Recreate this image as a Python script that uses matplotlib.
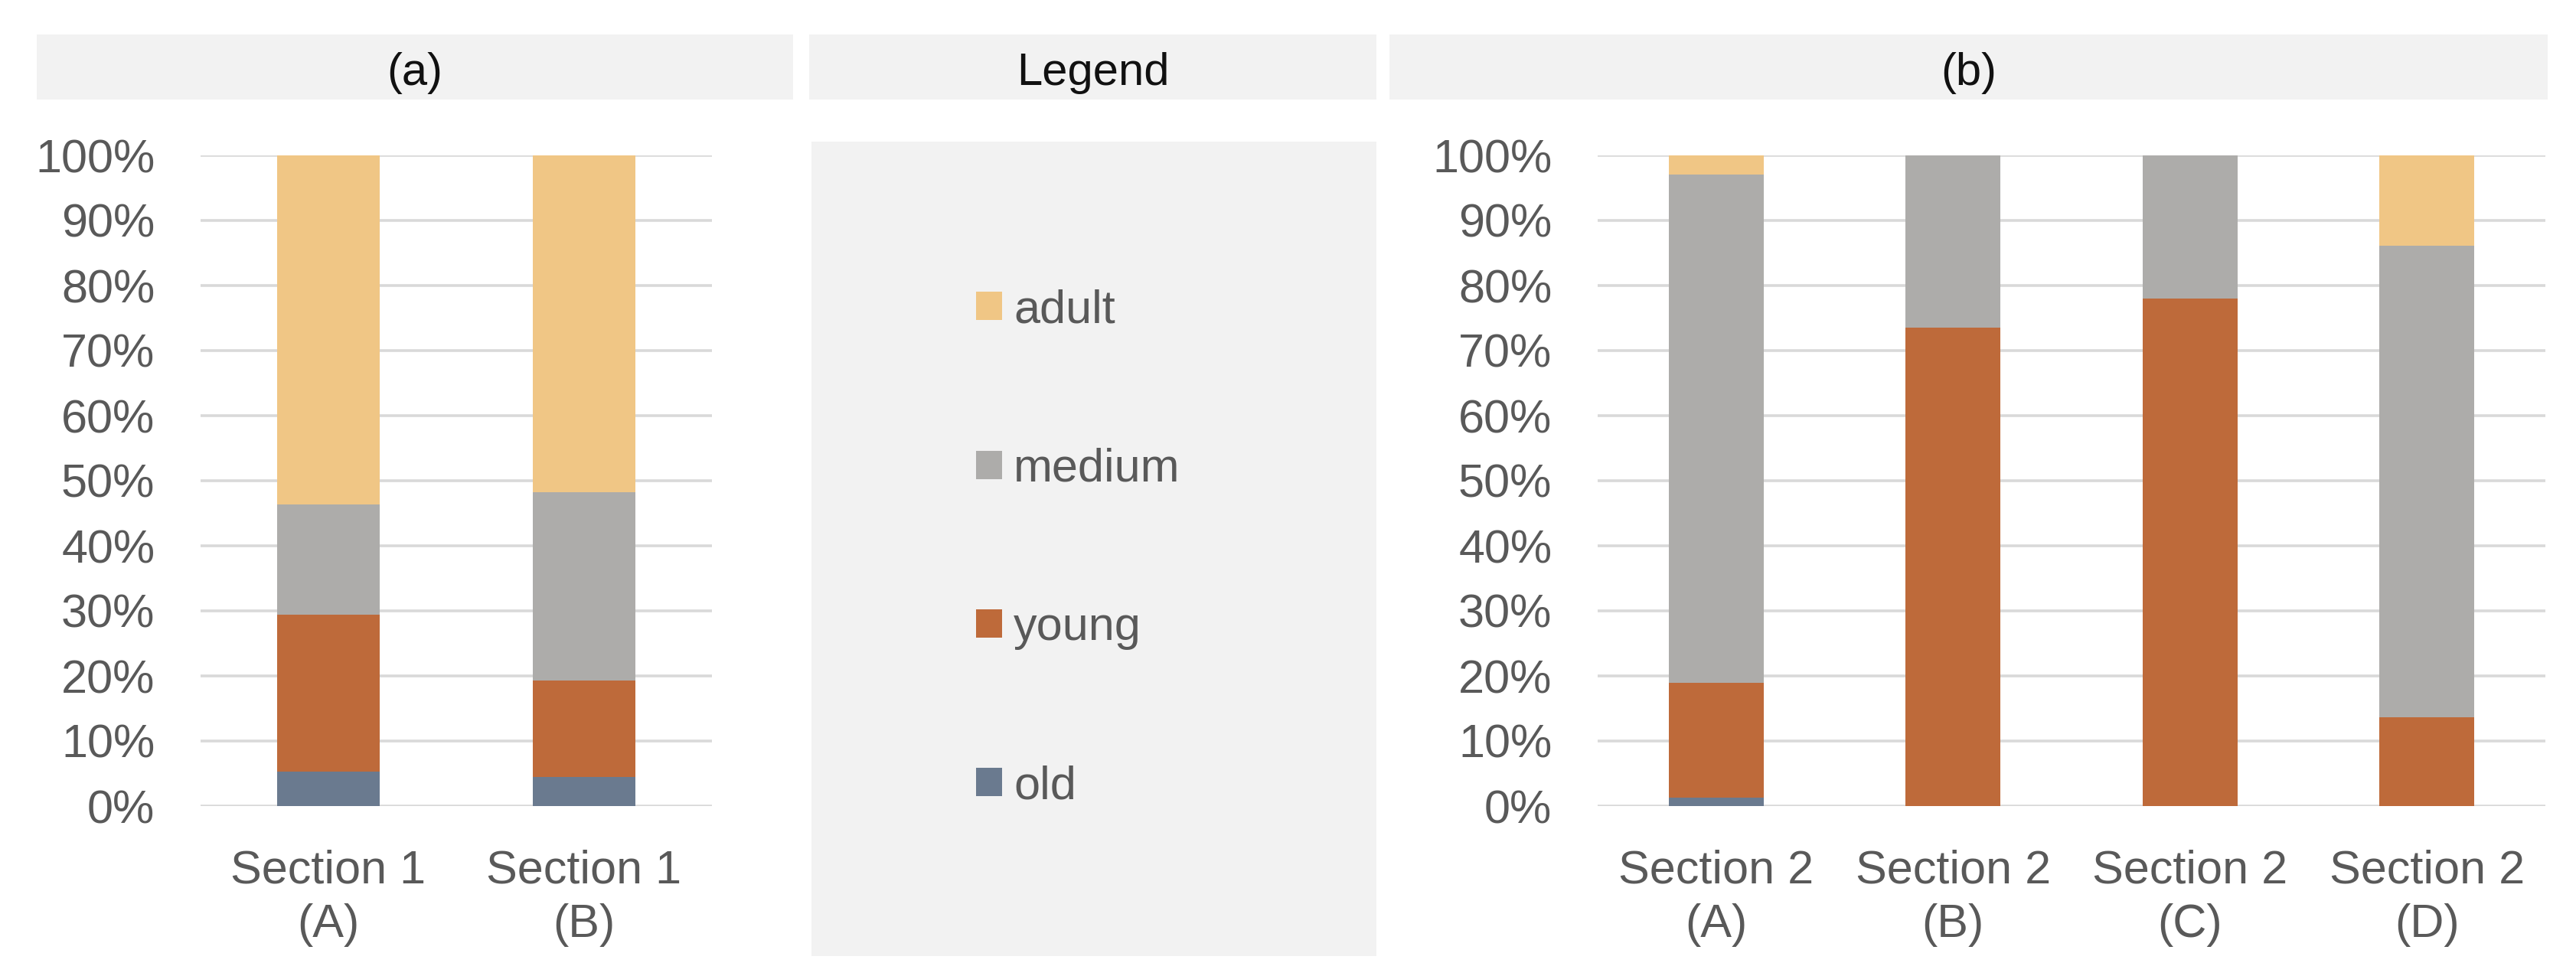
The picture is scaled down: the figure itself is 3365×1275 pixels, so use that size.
import matplotlib
matplotlib.use("Agg")
import matplotlib.pyplot as plt
from matplotlib.patches import Rectangle
from matplotlib.ticker import FuncFormatter, MultipleLocator
import numpy as np

plt.rcParams['font.family'] = ['Liberation Sans', 'DejaVu Sans']

# data (percent of each bar)
series = ['old', 'young', 'medium', 'adult']
colors = ['#6A7A8F', '#BE6A3A', '#ADACAA', '#F0C685']

labels_a = ['Section 1\n(A)', 'Section 1\n(B)']
old_a = [5.3, 4.5]
young_a = [24.1, 14.8]
medium_a = [17.0, 28.9]
adult_a = [53.6, 51.8]

labels_b = ['Section 2\n(A)', 'Section 2\n(B)', 'Section 2\n(C)', 'Section 2\n(D)']
old_b = [1.3, 0.0, 0.0, 0.0]
young_b = [17.6, 73.5, 78.0, 13.6]
medium_b = [78.2, 26.5, 22.0, 72.5]
adult_b = [2.9, 0.0, 0.0, 13.9]

W, H = 3366, 1275
TXT = '#595959'
STRIP = '#F2F2F2'
FS = 44

fig = plt.figure(figsize=(W / 100, H / 100), dpi=100)
fig.patch.set_facecolor('white')


def box(x0, y0, x1, y1):
    # pixel box (top-left origin) -> figure fraction
    return [x0 / W, 1 - y1 / H, (x1 - x0) / W, (y1 - y0) / H]


def strip(x0, x1, text):
    l, b, w, h = box(x0, 45, x1, 130)
    fig.patches.append(Rectangle((l, b), w, h, transform=fig.transFigure,
                                 facecolor=STRIP, edgecolor='none', zorder=0))
    fig.text(l + w / 2, 1 - 111 / H, text, ha='center', va='baseline',
             fontsize=FS - 1, color='#111111')


def stacked(ax, labels, parts):
    x = np.arange(len(labels))
    bottom = np.zeros(len(labels))
    bars = []
    for vals, c, name in zip(parts, colors, series):
        v = np.array(vals) / 100.0
        bars.append(ax.bar(x, v, 0.4, bottom=bottom, color=c, label=name, zorder=3))
        bottom += v
    ax.set_xlim(-0.5, len(labels) - 0.5)
    ax.set_ylim(0, 1)
    ax.yaxis.set_major_locator(MultipleLocator(0.1))
    ax.yaxis.set_major_formatter(FuncFormatter(lambda v, p: f'{v * 100:.0f}%'))
    ax.set_xticks(x)
    ax.set_xticklabels(labels, linespacing=1.3)
    ax.grid(axis='y', color='#D9D9D9', linewidth=2.6, zorder=0)
    ax.set_axisbelow(True)
    for s in ax.spines.values():
        s.set_visible(False)
    ax.tick_params(axis='y', length=0, pad=43, labelsize=FS, labelcolor=TXT)
    ax.tick_params(axis='x', length=0, pad=41, labelsize=FS, labelcolor=TXT)
    return bars


strip(48, 1036, '(a)')
strip(1057, 1798, 'Legend')
strip(1815, 3328, '(b)')

ax_a = fig.add_axes(box(262, 203, 930, 1053))
bars = stacked(ax_a, labels_a, [old_a, young_a, medium_a, adult_a])

ax_b = fig.add_axes(box(2087, 203, 3325, 1053))
stacked(ax_b, labels_b, [old_b, young_b, medium_b, adult_b])

# legend panel
ax_l = fig.add_axes(box(1060, 185, 1798, 1249))
ax_l.set_facecolor(STRIP)
ax_l.set_xticks([])
ax_l.set_yticks([])
for s in ax_l.spines.values():
    s.set_visible(False)
handles = [b[0] for b in bars][::-1]
ax_l.legend(handles, series[::-1], loc='center', bbox_to_anchor=(0.472, 0.5),
            frameon=False, fontsize=FS, labelcolor=TXT,
            handlelength=0.55, handleheight=0.55, handletextpad=0.25,
            labelspacing=2.46, borderpad=0)

fig.savefig('out.png', dpi=100, facecolor='white')
